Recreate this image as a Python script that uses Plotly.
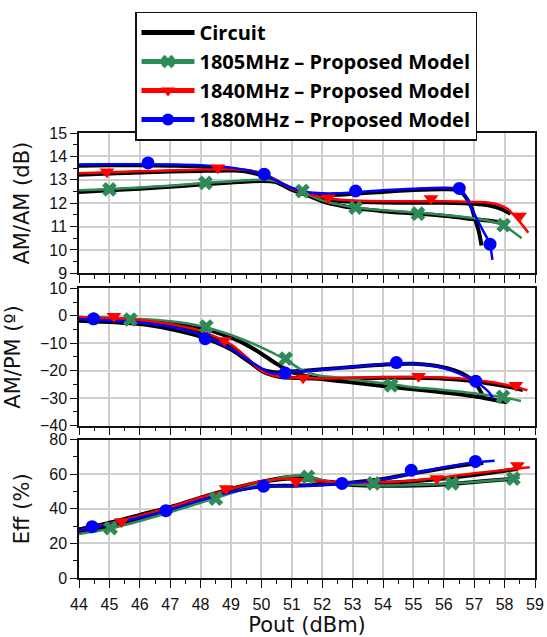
import plotly.graph_objects as go

# ---------------- AM/AM (dB) ----------------
amam_c1805_x = [44, 45, 46, 47, 48, 49, 50, 50.5, 51, 51.5, 52, 52.5, 53, 54, 55, 56, 56.75, 57.5, 58.12]
amam_c1805_y = [12.48, 12.55, 12.62, 12.7, 12.8, 12.88, 12.95, 12.9, 12.62, 12.35, 12.08, 11.92, 11.8, 11.66, 11.56, 11.46, 11.35, 11.25, 11.14]
amam_c1840_x = [44, 45, 46, 47, 48, 49, 49.5, 50, 50.5, 51, 51.5, 52, 52.5, 53, 54, 55, 56, 57, 57.5, 57.9, 58.2]
amam_c1840_y = [13.22, 13.27, 13.31, 13.35, 13.38, 13.4, 13.38, 13.25, 12.95, 12.58, 12.35, 12.2, 12.1, 12.06, 12.03, 12.02, 12.02, 11.98, 11.9, 11.75, 11.55]
amam_c1880_x = [44, 45, 46, 47, 48, 48.5, 49, 49.5, 50, 50.5, 51, 51.5, 52, 52.5, 53, 54, 55, 56, 56.5, 56.7, 56.9, 57.02, 57.15, 57.24]
amam_c1880_y = [13.6, 13.62, 13.62, 13.6, 13.57, 13.52, 13.45, 13.35, 13.2, 12.9, 12.58, 12.42, 12.36, 12.36, 12.4, 12.48, 12.56, 12.6, 12.55, 12.3, 11.85, 11.35, 10.8, 10.19]

amam_m1805_x = [44, 45, 46, 47, 48, 49, 50, 50.5, 51, 51.5, 52, 52.5, 53, 54, 55, 56, 57, 57.5, 57.97, 58.2, 58.56]
amam_m1805_y = [12.55, 12.6, 12.67, 12.75, 12.85, 12.93, 13.0, 12.92, 12.62, 12.38, 12.12, 11.95, 11.83, 11.7, 11.61, 11.5, 11.36, 11.24, 11.04, 10.85, 10.5]
amam_m1840_x = [44, 45, 46, 47, 48, 49, 49.5, 50, 50.5, 51, 51.5, 52, 52.5, 53, 54, 55, 56, 57, 57.5, 57.85, 58.1, 58.3, 58.5, 58.78]
amam_m1840_y = [13.28, 13.32, 13.36, 13.4, 13.44, 13.45, 13.42, 13.28, 12.98, 12.62, 12.4, 12.25, 12.16, 12.12, 12.08, 12.08, 12.08, 12.05, 12.02, 11.92, 11.75, 11.5, 11.2, 10.74]
amam_m1880_x = [44, 45, 46, 47, 48, 48.5, 49, 49.5, 50, 50.5, 51, 51.5, 52, 52.5, 53, 54, 55, 56, 56.5, 56.7, 56.9, 57.1, 57.3, 57.5, 57.6]
amam_m1880_y = [13.65, 13.66, 13.66, 13.65, 13.62, 13.58, 13.52, 13.42, 13.25, 12.95, 12.65, 12.48, 12.42, 12.42, 12.46, 12.55, 12.62, 12.66, 12.6, 12.35, 11.8, 11.3, 10.8, 10.3, 9.58]

amam_k1805_x = [45.0, 48.16, 51.35, 53.1, 55.15, 57.97]
amam_k1805_y = [12.59, 12.87, 12.52, 11.81, 11.55, 11.06]
amam_k1840_x = [44.92, 48.57, 52.2, 55.58, 58.49]
amam_k1840_y = [13.34, 13.51, 12.23, 12.2, 11.45]
amam_k1880_x = [46.27, 50.09, 53.1, 56.51, 57.52]
amam_k1880_y = [13.72, 13.24, 12.52, 12.63, 10.25]

# ---------------- AM/PM (deg) ----------------
ampm_c1805_x = [44, 46, 47, 48, 49, 49.5, 50, 50.5, 51, 51.5, 52, 53, 54, 55, 56, 57, 58.07]
ampm_c1805_y = [-1.0, -1.6, -2.5, -4.3, -8.0, -10.5, -13.8, -17.5, -20.5, -22.0, -23.0, -24.3, -25.6, -26.7, -27.9, -29.3, -31.5]
ampm_c1840_x = [44, 46, 47, 48, 49, 49.5, 50, 50.5, 51, 52, 53, 54, 55, 56, 57, 58, 58.6]
ampm_c1840_y = [-0.7, -1.7, -3.2, -6.0, -11.0, -15.5, -20.0, -22.0, -22.6, -22.9, -22.8, -22.6, -22.6, -22.9, -23.8, -25.6, -27.0]
ampm_c1880_x = [44, 46, 47, 48, 49, 49.5, 50, 50.5, 51, 52, 53, 54, 55, 56, 56.5, 57, 57.3]
ampm_c1880_y = [-1.8, -3.0, -4.8, -7.6, -12.3, -16.0, -19.5, -20.6, -20.3, -19.5, -18.6, -17.8, -17.5, -18.8, -20.5, -24.0, -29.5]

ampm_m1805_x = [44, 46, 47, 48, 49, 50, 50.8, 51.3, 51.8, 52.5, 53, 54, 55, 56, 57, 58, 58.54]
ampm_m1805_y = [-0.5, -1.2, -2.0, -3.7, -7.0, -11.5, -16.0, -19.5, -21.5, -22.5, -23.3, -24.5, -26.0, -27.0, -28.2, -29.8, -31.0]
ampm_m1840_x = [44, 46, 47, 48, 49, 49.5, 50, 50.5, 51, 52, 53, 54, 55, 56, 57, 58, 58.75]
ampm_m1840_y = [-0.5, -1.5, -3.0, -5.5, -10.5, -15.0, -20.0, -22.0, -22.5, -22.8, -22.6, -22.4, -22.3, -22.5, -23.3, -25.0, -27.1]
ampm_m1880_x = [44, 46, 47, 48, 49, 49.7, 50.3, 51, 52, 53, 54, 55, 56, 56.5, 57, 57.5, 57.62]
ampm_m1880_y = [-1.3, -2.5, -4.0, -7.0, -12.0, -17.0, -20.8, -20.5, -19.6, -18.6, -17.6, -17.5, -19.0, -21.0, -23.5, -28.0, -30.3]

ampm_k1805_x = [45.69, 48.19, 50.8, 54.27, 57.95]
ampm_k1805_y = [-1.35, -3.9, -15.6, -25.3, -29.5]
ampm_k1840_x = [45.15, 48.78, 51.37, 55.17, 58.37]
ampm_k1840_y = [-0.2, -9.0, -22.6, -22.0, -25.3]
ampm_k1880_x = [44.48, 48.15, 50.78, 54.44, 57.05]
ampm_k1880_y = [-1.1, -8.36, -20.8, -17.05, -23.8]

# ---------------- Efficiency (%) ----------------
eff_c1805_x = [44, 45, 46, 47, 48, 49, 50, 51, 51.5, 52, 53, 54, 55, 56, 57, 58, 58.3]
eff_c1805_y = [26.5, 29.5, 34.0, 39.0, 44.5, 50.0, 55.5, 58.5, 58.5, 56.0, 53.8, 53.3, 53.5, 54.0, 55.5, 57.0, 57.5]
eff_c1840_x = [44, 45, 46, 47, 48, 49, 50, 51, 52, 53, 54, 55, 56, 57, 58, 58.4]
eff_c1840_y = [28.0, 32.0, 36.5, 41.0, 46.5, 51.5, 55.5, 57.5, 56.0, 54.5, 55.0, 56.0, 57.5, 59.5, 62.0, 63.0]
eff_c1880_x = [44, 45, 46, 47, 48, 49, 50, 51, 52, 53, 54, 55, 56, 57, 57.3]
eff_c1880_y = [28.0, 31.5, 35.5, 40.0, 45.5, 50.0, 53.0, 53.3, 54.0, 55.2, 57.2, 60.5, 63.5, 66.0, 66.5]

eff_m1805_x = [44, 45, 46, 47, 48, 49, 50, 51, 51.5, 52, 53, 54, 55, 56, 57, 58, 58.5]
eff_m1805_y = [25.5, 28.5, 33.0, 38.0, 43.5, 49.0, 55.0, 59.0, 59.0, 56.5, 54.0, 53.5, 53.7, 54.3, 55.5, 57.0, 58.0]
eff_m1840_x = [44, 45, 46, 47, 48, 49, 50, 51, 52, 53, 54, 55, 56, 57, 58, 58.83]
eff_m1840_y = [27.5, 31.5, 36.0, 41.0, 46.5, 51.5, 56.0, 57.5, 56.0, 55.0, 55.3, 56.3, 58.3, 60.5, 62.5, 64.0]
eff_m1880_x = [44, 45, 46, 47, 48, 49, 50, 51, 52, 53, 54, 55, 56, 57, 57.67]
eff_m1880_y = [27.5, 31.0, 35.0, 39.5, 45.0, 49.5, 53.0, 53.2, 53.8, 55.0, 57.0, 60.5, 64.0, 66.8, 67.8]

eff_k1805_x = [45.04, 48.5, 51.53, 53.69, 56.27, 58.29]
eff_k1805_y = [28.8, 45.9, 58.5, 54.7, 54.7, 57.5]
eff_k1840_x = [45.4, 48.84, 51.14, 55.77, 58.42]
eff_k1840_y = [32.6, 51.8, 55.6, 57.5, 65.0]
eff_k1880_x = [44.43, 46.86, 50.07, 52.65, 54.93, 57.04]
eff_k1880_y = [29.7, 38.9, 53.1, 54.7, 62.3, 67.4]

legend_names = ["Circuit", "1805MHz \u2013 Proposed Model",
                "1840MHz \u2013 Proposed Model", "1880MHz \u2013 Proposed Model"]
x_ticks = list(range(44, 60))

GREEN = "#2E8B57"
RED = "#FF0000"
BLUE = "#0000FF"
BLACK = "#000000"
COLORS = [GREEN, RED, BLUE]
SYMBOLS = ["x", "triangle-down", "circle"]

panels = [
    ("x", "y",
     [(amam_c1805_x, amam_c1805_y), (amam_c1840_x, amam_c1840_y), (amam_c1880_x, amam_c1880_y)],
     [(amam_m1805_x, amam_m1805_y), (amam_m1840_x, amam_m1840_y), (amam_m1880_x, amam_m1880_y)],
     [(amam_k1805_x, amam_k1805_y), (amam_k1840_x, amam_k1840_y), (amam_k1880_x, amam_k1880_y)]),
    ("x2", "y2",
     [(ampm_c1805_x, ampm_c1805_y), (ampm_c1840_x, ampm_c1840_y), (ampm_c1880_x, ampm_c1880_y)],
     [(ampm_m1805_x, ampm_m1805_y), (ampm_m1840_x, ampm_m1840_y), (ampm_m1880_x, ampm_m1880_y)],
     [(ampm_k1805_x, ampm_k1805_y), (ampm_k1840_x, ampm_k1840_y), (ampm_k1880_x, ampm_k1880_y)]),
    ("x3", "y3",
     [(eff_c1805_x, eff_c1805_y), (eff_c1840_x, eff_c1840_y), (eff_c1880_x, eff_c1880_y)],
     [(eff_m1805_x, eff_m1805_y), (eff_m1840_x, eff_m1840_y), (eff_m1880_x, eff_m1880_y)],
     [(eff_k1805_x, eff_k1805_y), (eff_k1840_x, eff_k1840_y), (eff_k1880_x, eff_k1880_y)]),
]

fig = go.Figure()

for xa, ya, circuits, models, marks in panels:
    for cx, cy in circuits:
        fig.add_trace(go.Scatter(x=cx, y=cy, xaxis=xa, yaxis=ya, mode="lines",
                                 line=dict(color=BLACK, width=4, shape="spline", smoothing=0.8),
                                 showlegend=False, hoverinfo="skip"))
    for (mx, my), col in zip(models, COLORS):
        fig.add_trace(go.Scatter(x=mx, y=my, xaxis=xa, yaxis=ya, mode="lines",
                                 line=dict(color=col, width=2.5, shape="spline", smoothing=0.8),
                                 showlegend=False, hoverinfo="skip"))
    for (kx, ky), col, sym in zip(marks, COLORS, SYMBOLS):
        fig.add_trace(go.Scatter(x=kx, y=ky, xaxis=xa, yaxis=ya, mode="markers",
                                 marker=dict(color=col, symbol=sym, size=13,
                                             line=dict(width=0)),
                                 showlegend=False, hoverinfo="skip"))

# legend entries
fig.add_trace(go.Scatter(x=[None], y=[None], mode="lines", name=legend_names[0],
                         legendgroup="g0", line=dict(color=BLACK, width=5)))
for i, (name, col, sym) in enumerate(zip(legend_names[1:], COLORS, SYMBOLS), start=1):
    fig.add_trace(go.Scatter(x=[None], y=[None], mode="lines+markers", name=name,
                             legendgroup=f"g{i}",
                             line=dict(color=col, width=5),
                             marker=dict(color=col, symbol=sym, size=16)))

GRID = "#cfcfcf"
tick_font = dict(family="Liberation Sans, Arial, sans-serif", size=16, color="#111")
title_font = dict(family="DejaVu Sans, Verdana, sans-serif", size=21, color="#111")

PLOT_BOTTOM, PLOT_TOP = 578, 131
H = PLOT_BOTTOM - PLOT_TOP
X_LEFT, X_RIGHT = 79, 535


def dom(top_px, bottom_px):
    return [(PLOT_BOTTOM - bottom_px) / H, (PLOT_BOTTOM - top_px) / H]


def xaxis(anchor, show_labels, title=None):
    d = dict(anchor=anchor, domain=[0, 1], range=[44, 59], tickvals=x_ticks,
             showticklabels=show_labels, ticks="outside", ticklen=8, tickwidth=1.3,
             tickcolor="#111", showline=True, linecolor="#111", linewidth=1.5, mirror=True,
             showgrid=True, gridcolor=GRID, gridwidth=1.5, zeroline=False,
             tickfont=tick_font, ticklabelstandoff=3, automargin=False,
             minor=dict(dtick=0.5, tick0=44, ticks="outside", ticklen=4, tickwidth=1.2,
                        tickcolor="#111", showgrid=False))
    if title:
        d["title"] = dict(text=title, font=title_font, standoff=4)
    return d


def yaxis(anchor, rng, dtick, minor, top_px, bottom_px, title):
    return dict(anchor=anchor, domain=dom(top_px, bottom_px), range=rng, dtick=dtick,
                ticks="outside", ticklen=7, tickwidth=1.3, tickcolor="#111",
                showline=True, linecolor="#111", linewidth=1.5, mirror=True,
                showgrid=True, gridcolor=GRID, gridwidth=1.5, zeroline=False,
                tickfont=tick_font, automargin=False,
                title=dict(text=title, font=title_font, standoff=14),
                minor=dict(dtick=minor, ticks="outside", ticklen=4, tickwidth=1.2,
                           tickcolor="#111", showgrid=False))


fig.update_layout(
    width=547, height=637,
    margin=dict(l=X_LEFT, r=547 - X_RIGHT, t=PLOT_TOP, b=637 - PLOT_BOTTOM),
    paper_bgcolor="white", plot_bgcolor="white",
    xaxis=xaxis("y", False),
    xaxis2=xaxis("y2", False),
    xaxis3=xaxis("y3", True, "Pout (dBm)"),
    yaxis=yaxis("x", [9, 15], 1, 0.5, 131, 272, "AM/AM (dB)"),
    yaxis2=yaxis("x2", [-40, 10], 10, 5, 287, 425, "AM/PM (\u00ba)"),
    yaxis3=yaxis("x3", [0, 80], 20, 10, 439, 578, "Eff (%)"),
    legend=dict(x=(135 - X_LEFT) / (X_RIGHT - X_LEFT), xanchor="left",
                y=(PLOT_BOTTOM - 9) / H, yanchor="top",
                bgcolor="white", bordercolor="#111", borderwidth=1.5,
                font=dict(family="Open Sans, Lato, sans-serif", size=20, color="black",
                          weight="bold"),
                itemwidth=53, tracegroupgap=0, itemsizing="constant"),
    showlegend=True,
)

fig.write_html("out.html")
